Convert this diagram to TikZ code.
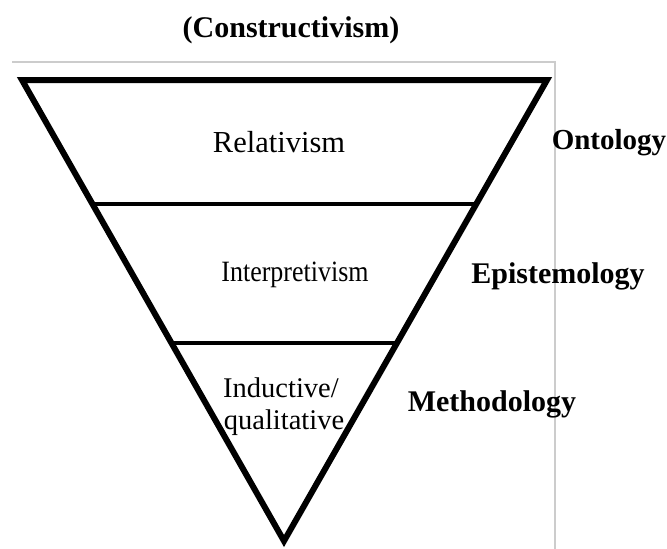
\documentclass[tikz,border=0pt]{standalone}
\usepackage{fontspec}
\setmainfont{Liberation Serif}
\usetikzlibrary{calc}
\begin{document}
\begin{tikzpicture}[x=1pt,y=-1pt,
  frame/.style={draw=black!20,line width=1.5pt},
  thickedge/.style={draw=black,line width=6pt,line join=miter},
  divider/.style={draw=black,line width=3.5pt},
  inner/.style={inner sep=0pt,anchor=base},
  side/.style={font=\fontsize{30}{32}\selectfont\bfseries,inner sep=0pt,anchor=base},
  title/.style={font=\fontsize{30}{32}\selectfont\bfseries,inner sep=0pt,anchor=base}]
\useasboundingbox (0,0) rectangle (667,549);
% grey frame
\coordinate (F1) at (12,62);
\coordinate (F2) at (555,62);
\coordinate (F3) at (555,549);
\draw[frame] (F1) -- (F2) -- (F3);
% triangle
\coordinate (TL) at (22,80);
\coordinate (TR) at (547,80);
\coordinate (B) at (284,541);
\draw[thickedge] (TL) -- (TR) -- (B) -- cycle;
\coordinate (L1) at ($(TL)!0.269!(B)$);
\coordinate (R1) at ($(TR)!0.269!(B)$);
\coordinate (L2) at ($(TL)!0.5705!(B)$);
\coordinate (R2) at ($(TR)!0.5705!(B)$);
\draw[divider] (L1) -- (R1);
\draw[divider] (L2) -- (R2);
% texts
\node[title] (t) at (291,37) {(Constructivism)};
\node[inner,font=\fontsize{30.5}{32}\selectfont] (rel) at (279,152) {Relativism};
\node[inner,font=\fontsize{29.5}{30}\selectfont] (int) at (295,281) {\scalebox{0.88}[1]{Interpretivism}};
\node[inner,font=\fontsize{28.5}{30}\selectfont] (ind) at (281,397) {Inductive/};
\node[inner,font=\fontsize{28.5}{30}\selectfont] (qual) at (284,429) {qualitative};
\node[side,font=\fontsize{29}{32}\selectfont\bfseries] (ont) at (609,149) {Ontology};
\node[side] (epi) at (558,283) {Epistemology};
\node[side] (met) at (492,411) {Methodology};
\end{tikzpicture}
\end{document}
